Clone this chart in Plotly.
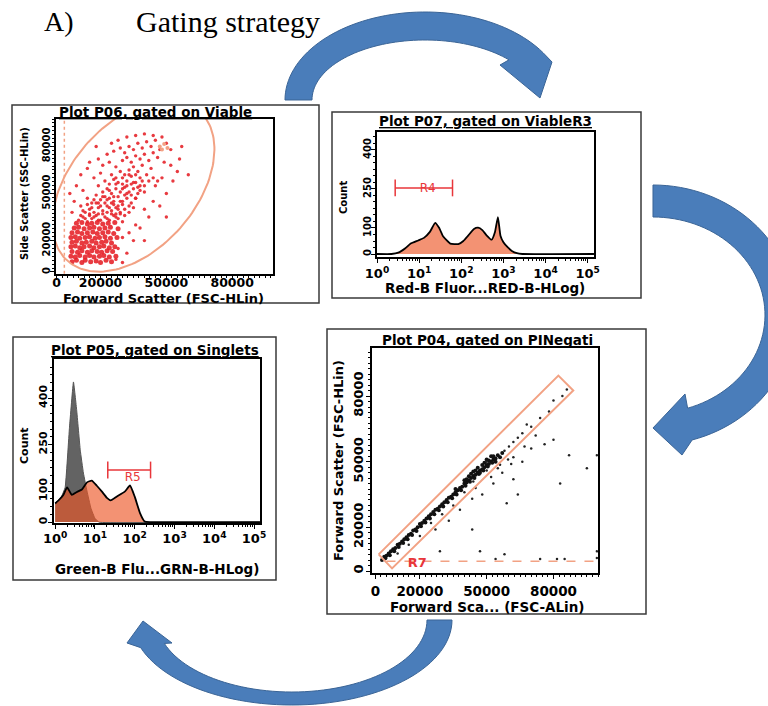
import numpy as np
import plotly.graph_objects as go

W, H = 768, 706

# ---------------- Plot P06 : FSC vs SSC (values in thousands) ----------------
P06_CORE_X = [7, 9, 11.5, 13, 15.5, 18, 20, 22.5, 25,
              6.5, 8.5, 10.5, 13, 15, 17, 19.5, 21.5, 24, 27,
              7, 9.5, 11.5, 14, 16, 18.5, 20.5, 23, 25.5,
              6.5, 8.5, 10.5, 12.5, 15, 17, 19.5, 21.5, 24, 26.5,
              7, 9, 11.5, 13.5, 16, 18, 20.5, 22.5, 25,
              6.5, 8.5, 10.5, 13, 15, 17.5, 19.5, 22, 24.5, 27.5,
              7, 9.5, 11.5, 14, 16.5, 18.5, 21, 23.5, 26,
              8, 10, 12.5, 15, 17, 19.5, 22, 24.5, 28,
              9, 11.5, 14, 16, 18.5, 21, 23.5, 26.5]
P06_CORE_Y = [6.5, 7.5, 6, 7.5, 6.5, 7, 6, 7.5, 6.5,
              10, 9.5, 10.5, 9.5, 10.5, 9.5, 10, 10.5, 9.5, 10,
              13, 12.5, 13.5, 12.5, 13.5, 13, 12.5, 13.5, 13,
              16, 16.5, 15.5, 16, 16.5, 15.5, 16, 16.5, 15.5, 16,
              19, 19.5, 18.5, 19, 19.5, 18.5, 19, 19.5, 18.5,
              22, 22.5, 21.5, 22, 22.5, 21.5, 22, 22.5, 21.5, 22,
              25, 25.5, 24.5, 25, 25.5, 24.5, 25, 25.5, 24.5,
              28, 28.5, 27.5, 28, 28.5, 27.5, 28, 28.5, 27.5,
              31, 31.5, 30.5, 31, 31.5, 30.5, 31, 31.5]
P06_X = [10, 12, 14, 16, 18, 20, 22, 24, 26, 28, 30,
         13, 15, 17, 19, 21, 23, 25, 27, 29, 31, 11,
         16, 20, 22, 24, 26, 28, 30, 32, 34, 18,
         21, 23, 25, 27, 29, 31, 33, 35, 37, 14, 12,
         19, 22, 24, 26, 28, 30, 32, 34, 36, 38, 40,
         17, 20, 25, 29, 33, 35, 37, 39, 41, 43,
         15, 19, 23, 27, 31, 33, 36, 20, 25, 28, 24, 30, 34, 27, 31, 36, 38, 32, 26, 22,
         11, 13, 15, 17, 19, 21, 23, 25, 27, 29, 12, 14, 16, 18, 24, 26, 28, 30, 33, 35,
         17, 19, 21, 23, 29, 31, 34, 36, 38, 40, 27, 30, 32, 35, 37, 39, 42, 44, 46, 33,
         21, 24, 27, 30, 32, 34, 36, 38, 40, 42, 44, 23, 26, 29, 31, 33, 35, 37, 39, 41,
         43, 45, 47, 28, 32, 36, 40, 44, 48, 50, 52, 46, 49, 25, 19,
         8, 9, 11, 14, 7, 6, 40, 44, 47, 50, 53, 55, 42, 36, 33, 38, 45, 48, 52, 56,
         30, 35, 28, 32, 27, 30, 18, 15, 40, 50, 57, 60]
P06_Y = [33, 35, 32, 34, 36, 33, 35, 33, 36, 34, 32,
         38, 40, 38, 41, 39, 42, 39, 41, 38, 40, 42,
         44, 46, 44, 47, 45, 48, 45, 47, 44, 49,
         51, 53, 50, 53, 51, 54, 51, 53, 50, 47, 52,
         55, 58, 56, 59, 57, 60, 58, 61, 57, 60, 55,
         60, 63, 62, 64, 65, 67, 64, 68, 62, 66,
         36, 37, 38, 37, 36, 42, 47, 42, 44, 42, 52, 56, 56, 60, 62, 62, 55, 50, 48, 48,
         36, 34, 37, 35, 33, 37, 34, 37, 35, 37, 39, 43, 41, 44, 41, 43, 40, 43, 38, 41,
         46, 44, 48, 46, 45, 49, 49, 47, 52, 51, 56, 53, 55, 57, 54, 58, 58, 60, 58, 62,
         68, 70, 67, 71, 73, 70, 74, 72, 75, 71, 76, 75, 77, 79, 76, 80, 78, 82, 79, 83,
         80, 84, 78, 84, 86, 87, 88, 87, 86, 82, 78, 73, 70, 82, 72,
         45, 55, 62, 66, 38, 50, 40, 45, 42, 50, 58, 64, 35, 30, 25, 28, 55, 60, 68, 72,
         22, 20, 15, 12, 8, 6, 80, 70, 20, 35, 80, 62]
P06_HI_X = [47, 49, 50.5, 48]
P06_HI_Y = [80, 81.5, 79, 78]
P06_ELLIPSE = dict(cx=35, cy=54.8, ux=30, uy=47.8, vx=21.5, vy=-26.5)
P06_THRESHOLD = 3.5
LIN_TICKVALS = [0, 20, 50, 80]
LIN_TICKTEXT = ["0", "20000", "50000", "80000"]

# ---------------- Plot P07 : Red-B histogram ----------------
P07_X = [1, 2.2, 3.2, 4.7, 6.3, 9.5, 13, 18, 24, 30, 37, 55, 85, 112, 148, 200,
         251, 316, 398, 525, 631, 741, 851, 1000, 1259, 1585, 2089, 2818, 141000]
P07_COUNT = [0, 0, 5, 22, 40, 52, 62, 85, 120, 100, 68, 40, 38, 50, 72, 96,
             101, 92, 72, 55, 85, 142, 70, 45, 26, 12, 3, 0, 0]
R4_X = [2.7, 62]
R4_Y = [254, 254]
R4_LABEL = (16, 250)

# ---------------- Plot P05 : Green-B histogram ----------------
P05_X = [1, 1.26, 1.6, 2.0, 2.6, 3.5, 4.7, 6.3, 8.3, 11, 15, 20, 25, 35, 56,
         76, 100, 135, 178, 251, 141000]
P05_COUNT = [60, 72, 87, 112, 88, 97, 105, 128, 134, 118, 98, 78, 70, 82, 98,
             118, 82, 30, 2, 0, 0]
P05_CTRL_X = [1, 1.41, 1.78, 2.29, 2.88, 3.47, 4.27, 5.13, 6.3, 7.9, 10, 12.6, 141000]
P05_CTRL_COUNT = [62, 80, 112, 306, 452, 361, 232, 158, 100, 45, 12, 0, 0]
R5_X = [21, 250]
R5_Y = [168, 168]
R5_LABEL = (89, 143)

COUNT_TICKVALS = [0, 100, 250, 400]
LOG_TICKVALS = [1, 10, 100, 1000, 10000, 100000]
LOG_TICKTEXT = ["10<sup>0</sup>", "10<sup>1</sup>", "10<sup>2</sup>",
                "10<sup>3</sup>", "10<sup>4</sup>", "10<sup>5</sup>"]

# ---------------- Plot P04 : FSC-A vs FSC-H (thousands) ----------------
P04_X = [3, 4, 5, 6, 7, 8, 9, 10, 11, 12, 13, 14, 15, 16, 17, 18, 19, 20, 21, 22, 23, 24, 25, 26,
         27, 28, 29, 30, 31, 32, 33, 34, 35, 36, 37, 38, 39, 40, 41, 42, 43, 44, 45, 46, 47, 48,
         49, 50, 51, 52, 53, 54,
         4.5, 6.5, 8.5, 10.5, 12.5, 14.5, 16.5, 18.5, 20.5, 22.5, 24.5, 26.5, 28.5, 30.5, 32.5,
         34.5, 36.5, 38.5, 40.5, 42.5, 44.5, 46.5, 48.5, 50.5, 52.5, 54, 36, 40, 44, 48, 52, 50,
         46, 42, 45, 47, 49, 51, 53, 55, 56, 57, 43, 41]
P04_Y = [5, 6.5, 7, 8, 9, 10, 10.5, 12, 12.5, 13.5, 14.5, 15.5, 16.5, 17, 18.5, 19, 20, 21.5,
         22, 23, 24, 25, 26, 27, 28, 28.5, 29.5, 30.5, 31.5, 32.5, 33.5, 34, 35, 36, 37, 38, 38.5,
         40, 40.5, 41.5, 42.5, 43.5, 44, 45, 46, 46.5, 47.5, 48.5, 49, 50, 51, 51.5,
         5.8, 7.2, 9, 11, 12.8, 14.5, 16.5, 18.3, 20.5, 22.2, 24, 26, 27.8, 29.5, 31.5, 33.3, 35,
         37, 39, 40.8, 42.6, 44.4, 46, 47.8, 49.5, 50, 37.5, 41.5, 45.5, 48.5, 52.5, 51, 47.2,
         43.3, 46, 45, 49.5, 50.5, 52.5, 53, 52, 54, 44.5, 42]
P04_SX = [58, 60, 62, 64, 66, 70, 74, 78, 80, 84, 86, 68, 59.6, 62, 56, 50, 50,
          70, 80, 87, 95, 83, 99.5, 43.5, 33, 43.5, 27, 59, 64, 53, 47, 54, 58, 74, 81.6, 85,
          99.5, 99.5, 29, 38, 45, 52, 57, 48, 35, 25, 62, 66, 72, 76, 40, 30, 20, 15, 10, 44,
          55, 61, 67]
P04_SY = [55, 57, 59, 61, 63, 66, 70, 73, 78, 80, 83, 67, 51, 52, 48.6, 46, 50,
          56, 60, 53, 47, 40, 53, 33, 23, 19, 19, 31, 35, 40, 9, 5.5, 7.7, 5.5, 5.5, 5.5,
          9, 6, 9, 28, 38, 43, 45, 35, 30, 22, 42, 50, 62, 58, 36, 26, 16, 12, 8, 41,
          47, 49, 57]
R7_X = [1.5, 82.2, 88.9, 7.5, 1.5]
R7_Y = [7.6, 89.4, 82.6, 1.2, 7.6]
R7_LINE_Y = 4.5
R7_LABEL = (18.8, 3.4)

# ---------------- colours / fonts ----------------
RED = "#E5252B"
GATE = "#F2A284"
FILL = "rgba(237,88,40,0.65)"
LABEL_RED = "#E8363A"
FONT = "DejaVu Sans"

fig = go.Figure()


def px_x(a, b):
    return [a / W, b / W]


def px_y(top, bottom):
    return [1 - bottom / H, 1 - top / H]


# P06
fig.add_trace(go.Scatter(x=P06_CORE_X, y=P06_CORE_Y, mode="markers", xaxis="x", yaxis="y",
                         marker=dict(color=RED, size=5, opacity=0.9)))
fig.add_trace(go.Scatter(x=P06_X, y=P06_Y, mode="markers", xaxis="x", yaxis="y",
                         marker=dict(color=RED, size=3.4, opacity=0.9)))
fig.add_trace(go.Scatter(x=P06_HI_X, y=P06_HI_Y, mode="markers", xaxis="x", yaxis="y",
                         marker=dict(color=GATE, size=4)))
t = np.linspace(0, 2 * np.pi, 160)
e = P06_ELLIPSE
fig.add_trace(go.Scatter(x=e["cx"] + e["ux"] * np.cos(t) + e["vx"] * np.sin(t),
                         y=e["cy"] + e["uy"] * np.cos(t) + e["vy"] * np.sin(t),
                         mode="lines", xaxis="x", yaxis="y", line=dict(color=GATE, width=2)))
fig.add_trace(go.Scatter(x=[P06_THRESHOLD, P06_THRESHOLD], y=[-5, 105], mode="lines",
                         xaxis="x", yaxis="y", line=dict(color=GATE, width=1.5, dash="dot")))

# P07
fig.add_trace(go.Scatter(x=P07_X, y=P07_COUNT, mode="lines", fill="tozeroy", fillcolor=FILL,
                         xaxis="x2", yaxis="y2", line=dict(color="black", width=1.8, shape="spline", smoothing=0.4)))
fig.add_trace(go.Scatter(x=R4_X, y=R4_Y, mode="lines+markers", xaxis="x2", yaxis="y2",
                         line=dict(color=LABEL_RED, width=1.5),
                         marker=dict(symbol="line-ns-open", size=12, line=dict(color=LABEL_RED, width=1.5))))
fig.add_trace(go.Scatter(x=[R4_LABEL[0]], y=[R4_LABEL[1]], mode="text", text=["R4"], xaxis="x2", yaxis="y2",
                         textfont=dict(family=FONT, size=12, color=LABEL_RED)))

# P05
fig.add_trace(go.Scatter(x=P05_CTRL_X, y=P05_CTRL_COUNT, mode="lines", fill="tozeroy", fillcolor="#636363",
                         xaxis="x3", yaxis="y3", line=dict(color="#555555", width=1, shape="spline", smoothing=0.3)))
fig.add_trace(go.Scatter(x=P05_X, y=P05_COUNT, mode="lines", fill="tozeroy", fillcolor=FILL,
                         xaxis="x3", yaxis="y3", line=dict(color="black", width=1.8, shape="spline", smoothing=0.4)))
fig.add_trace(go.Scatter(x=R5_X, y=R5_Y, mode="lines+markers", xaxis="x3", yaxis="y3",
                         line=dict(color=LABEL_RED, width=1.5),
                         marker=dict(symbol="line-ns-open", size=12, line=dict(color=LABEL_RED, width=1.5))))
fig.add_trace(go.Scatter(x=[R5_LABEL[0]], y=[R5_LABEL[1]], mode="text", text=["R5"], xaxis="x3", yaxis="y3",
                         textfont=dict(family=FONT, size=12, color=LABEL_RED)))

# P04
fig.add_trace(go.Scatter(x=P04_X, y=P04_Y, mode="markers", xaxis="x4", yaxis="y4",
                         marker=dict(color="#111111", size=4)))
fig.add_trace(go.Scatter(x=P04_SX, y=P04_SY, mode="markers", xaxis="x4", yaxis="y4",
                         marker=dict(color="#222222", size=2.5)))
fig.add_trace(go.Scatter(x=R7_X, y=R7_Y, mode="lines", xaxis="x4", yaxis="y4",
                         line=dict(color=GATE, width=2)))
fig.add_trace(go.Scatter(x=[5, 101], y=[R7_LINE_Y, R7_LINE_Y], mode="lines", xaxis="x4", yaxis="y4",
                         line=dict(color=GATE, width=1.5, dash="dash")))
fig.add_trace(go.Scatter(x=[R7_LABEL[0]], y=[R7_LABEL[1]], mode="text", text=["<b>R7</b>"], xaxis="x4", yaxis="y4",
                         textfont=dict(family=FONT, size=13, color=LABEL_RED)))

LIN_MINOR = list(np.arange(0, 101, 2.5))
LOG_MINOR = [k * 10 ** d for d in range(0, 5) for k in range(2, 10)]
COUNT_MINOR = list(range(0, 501, 25))


def axis(domain, anchor, rng, tickvals, ticktext, minor_vals, typ="linear", size=13, angle=0, standoff=0):
    return dict(domain=domain, anchor=anchor, range=rng, type=typ, automargin=False,
                showline=True, linecolor="black", linewidth=1.5, mirror=True,
                ticks="outside", ticklen=4, tickwidth=1.2, tickcolor="black",
                showgrid=False, zeroline=False, tickangle=angle, ticklabelstandoff=standoff,
                tickmode="array", tickvals=tickvals, ticktext=ticktext,
                tickfont=dict(family=FONT, size=size, color="black", weight="bold"),
                minor=dict(ticks="outside", ticklen=2.5, tickwidth=1, tickcolor="black",
                           tickmode="array", tickvals=minor_vals, showgrid=False))


COUNT_TEXT = [str(v) for v in COUNT_TICKVALS]
layout_axes = dict(
    xaxis=axis(px_x(56, 273), "y", [-0.3, 98.6], LIN_TICKVALS, LIN_TICKTEXT, LIN_MINOR, size=12.5, standoff=-8),
    yaxis=axis(px_y(119, 274), "x", [-1.3, 97.5], LIN_TICKVALS, LIN_TICKTEXT, LIN_MINOR, size=10, angle=-90,
               standoff=-4),
    xaxis2=axis(px_x(377, 594), "y2", [0, 5.15], LOG_TICKVALS, LOG_TICKTEXT, LOG_MINOR, typ="log"),
    yaxis2=axis(px_y(132, 257), "x2", [-11.5, 469], COUNT_TICKVALS, COUNT_TEXT, COUNT_MINOR, size=10, angle=-90,
                standoff=-4),
    xaxis3=axis(px_x(54, 260), "y3", [-0.03, 5.15], LOG_TICKVALS, LOG_TICKTEXT, LOG_MINOR, typ="log", standoff=-1),
    yaxis3=axis(px_y(359, 523), "x3", [-3, 526], COUNT_TICKVALS, COUNT_TEXT, COUNT_MINOR, size=11, angle=-90,
                standoff=-3),
    xaxis4=axis(px_x(372, 598), "y4", [-1.5, 100], LIN_TICKVALS, LIN_TICKTEXT, LIN_MINOR, size=13.5, standoff=1),
    yaxis4=axis(px_y(348, 573), "x4", [-0.9, 102], LIN_TICKVALS, LIN_TICKTEXT, LIN_MINOR, size=13, angle=-90,
                standoff=-2),
)


def ann(x, y, text, size=13.5, angle=0, family=FONT, bold=True, xanchor="center", color="black"):
    return dict(x=x / W, y=1 - y / H, xref="paper", yref="paper", text=text, showarrow=False,
                textangle=angle, xanchor=xanchor, yanchor="middle",
                font=dict(family=family, size=size, color=color, weight="bold" if bold else "normal"))


annotations = [
    ann(42, 22, "A)", size=28, family="Liberation Serif", bold=False, xanchor="left"),
    ann(134, 22, "Gating strategy", size=30, family="Liberation Serif", bold=False, xanchor="left"),
    ann(155, 112, "<u>Plot P06, gated on Viable</u>"),
    ann(485, 121, "<u>Plot P07, gated on ViableR3</u>"),
    ann(155, 350, "<u>Plot P05, gated on Singlets</u>"),
    ann(487, 340, "<u>Plot P04, gated on PINegati</u>"),
    ann(163, 298, "Forward Scatter (FSC-HLin)", size=13),
    ann(485, 288, "Red-B Fluor...RED-B-HLog)"),
    ann(157, 569, "Green-B Flu...GRN-B-HLog)"),
    ann(487, 607, "Forward Sca... (FSC-ALin)"),
    ann(24, 194, "Side Scatter (SSC-HLin)", size=10, angle=-90),
    ann(344, 198, "Count", size=10, angle=-90),
    ann(24, 446, "Count", size=11, angle=-90),
    ann(338, 461, "Forward Scatter (FSC-HLin)", size=13, angle=-90),
]


def to_paper_path(pts):
    return "M " + " L ".join(f"{x / W:.5f},{1 - y / H:.5f}" for x, y in pts) + " Z"


def arc(cx, cy, rx, ry, t0, t1, down=False, n=60):
    tt = np.radians(np.linspace(t0, t1, n))
    s = 1 if down else -1
    return list(zip(cx + rx * np.cos(tt), cy + s * ry * np.sin(tt)))


ARROW_FILL = "#4A7DBA"
ARROW_EDGE = "#3A6496"
top_arrow = arc(425, 100, 140, 88, 180, 30) + [(552, 62), (540, 98), (500, 65)] + arc(425, 100, 113, 60, 42, 180)
right_arrow = arc(653, 315, 142, 130, 90, -74) + [(682, 455), (653, 428), (685, 394)] + arc(653, 315, 112, 98, -72, 90)
bottom_arrow = arc(292, 620, 160, 85, 0, 161, down=True) + [(127, 643), (143, 621), (172, 643)] + \
    arc(292, 620, 135, 72, 161, 0, down=True)

shapes = []
for pts in (top_arrow, right_arrow, bottom_arrow):
    shapes.append(dict(type="path", xref="paper", yref="paper", path=to_paper_path(pts),
                       fillcolor=ARROW_FILL, line=dict(color=ARROW_EDGE, width=1), layer="below"))

for (x0, y0, x1, y1) in [(12, 105, 319, 303), (332, 112, 641, 298), (13, 337, 276, 580), (327, 329, 646, 614)]:
    shapes.append(dict(type="rect", xref="paper", yref="paper", x0=x0 / W, x1=x1 / W,
                       y0=1 - y1 / H, y1=1 - y0 / H, line=dict(color="#3a3a3a", width=1.5)))

fig.update_layout(
    width=W, height=H, margin=dict(l=0, r=0, t=0, b=0, autoexpand=False),
    paper_bgcolor="white", plot_bgcolor="white", showlegend=False,
    annotations=annotations, shapes=shapes, **layout_axes,
)

fig.write_html("out.html", config={"displayModeBar": False},
               post_script="document.body.style.margin='0';document.body.style.overflow='hidden';")
